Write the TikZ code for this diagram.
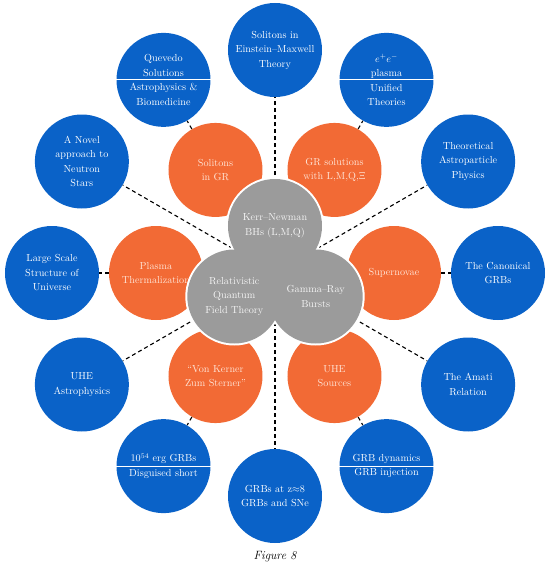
\documentclass[tikz,border=0pt]{standalone}
\usepackage{amsmath}
\usetikzlibrary{backgrounds}
\definecolor{topicblue}{HTML}{0A62C8}
\definecolor{topicorange}{HTML}{F26A35}
\definecolor{coregray}{HTML}{9B9B9B}
\definecolor{orangetext}{HTML}{FFE4D6}
\tikzset{
  bubble/.style={circle, inner sep=0pt, minimum size=94pt, align=center,
    font=\fontsize{10.2}{14.5}\selectfont},
  bluebubble/.style={bubble, fill=topicblue, text=white},
  orangebubble/.style={bubble, fill=topicorange, text=orangetext},
  graybubble/.style={bubble, fill=coregray, text=white!92!gray},
  link/.style={dashed, line width=1.1pt, dash pattern=on 4pt off 3pt}
}
\begin{document}
\begin{tikzpicture}[x=1pt,y=1pt]
  \useasboundingbox (-275,-298) rectangle (275,273);
  \coordinate (core) at (0,0);
  % outer ring: blue topics
  \foreach \a/\n/\t in {
      90/einstein/{Solitons in\\Einstein--Maxwell\\Theory},
      60/plasma/{$e^+e^-$\\plasma\\Unified\\Theories},
      30/astro/{Theoretical\\Astroparticle\\Physics},
      0/canonical/{The Canonical\\GRBs},
      -30/amati/{The Amati\\Relation},
      -60/dynamics/{GRB dynamics\\GRB injection},
      -90/highz/{GRBs at z$\approx$8\\GRBs and SNe},
      -120/energy/{10$^{54}$ erg GRBs\\Disguised short},
      -150/uhe/{UHE\\Astrophysics},
      180/largescale/{Large Scale\\Structure of\\Universe},
      150/neutron/{A Novel\\approach to\\Neutron\\Stars},
      120/quevedo/{Quevedo\\Solutions\\Astrophysics \&\\Biomedicine}} {
    \node[bluebubble] (\n) at (\a:223) {\t};
  }
  % split circles
  \foreach \n in {quevedo,plasma,energy,dynamics}
    \draw[white, line width=0.8pt] (\n.west) -- (\n.east);

  % middle ring: orange topics
  \foreach \a/\n/\t in {
      120/solitons/{Solitons\\in GR},
      60/grsol/{GR solutions\\with L,M,Q,$\Xi$},
      180/thermal/{Plasma\\Thermalization},
      0/supernovae/{Supernovae},
      -120/kerner/{``Von Kerner\\Zum Sterner''},
      -60/sources/{UHE\\Sources}} {
    \node[orangebubble] (\n) at (\a:119) {\t};
  }

  % core: white rim, then gray circles
  \foreach \a in {90,210,330}
    \fill[white] (\a:47) circle (49);
  \node[graybubble] (kerrnewman) at (90:47) {Kerr--Newman\\BHs (L,M,Q)};
  \node[graybubble] (rqft) at (210:47) {Relativistic\\Quantum\\Field Theory};
  \node[graybubble] (grb) at (330:47) {Gamma--Ray\\Bursts};

  % connectors behind the circles
  \begin{scope}[on background layer]
    \foreach \b in {einstein,astro,amati,highz,uhe,neutron}
      \draw[link] (core) -- (\b);
    \foreach \o/\b in {solitons/quevedo,grsol/plasma,thermal/largescale,
                       supernovae/canonical,kerner/energy,sources/dynamics}
      \draw[link] (\o) -- (\b);
  \end{scope}

  \node[font=\fontsize{12}{14}\selectfont\itshape] (caption) at (0,-284) {Figure 8};
\end{tikzpicture}
\end{document}
